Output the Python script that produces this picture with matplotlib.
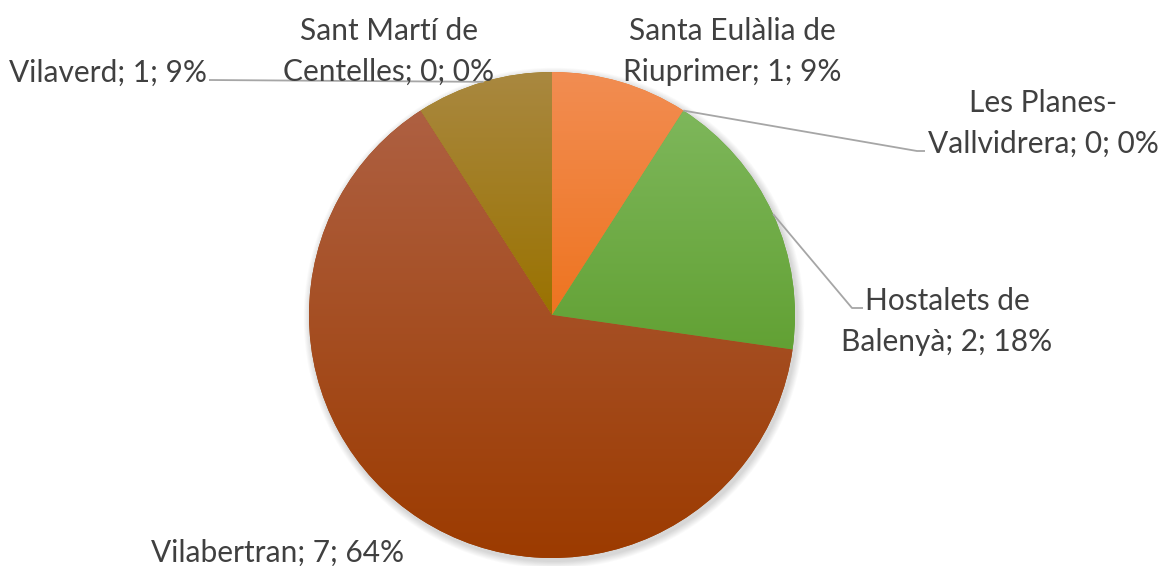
import numpy as np
import matplotlib
matplotlib.use("Agg")
import matplotlib.pyplot as plt
from matplotlib.colors import LinearSegmentedColormap
from matplotlib.patches import Circle

# ---- data ----
names = ["Santa Eulàlia de Riuprimer", "Les Planes-Vallvidrera", "Hostalets de Balenyà",
         "Vilabertran", "Vilaverd", "Sant Martí de Centelles"]
values = [1, 0, 2, 7, 1, 0]

# ---- style / layout ----
top_colors = ["#F28D52", "#F28D52", "#7EB75B", "#AE6042", "#A98840", "#A98840"]
bot_colors = ["#EE7420", "#EE7420", "#62A134", "#9C3B00", "#9A7200", "#9A7200"]
break_after = ["de ", "Planes-", "de ", None, None, "de "]
# first-line baseline positions in pixel coords (x centre, y from top)
label_pos = [(732, 40), (1043, 112), (947, 310), (278, 562), (108, 82), (389, 40)]
# leader line waypoints (pixel coords, y from top); None = no leader
leaders = [None, [(917, 151), (925, 151)], [(852, 308), (863, 308)], None, [(209, 80)], None]

W, H = 1160, 566
CX, CY, R = 552, 315, 243
TEXT = "#404040"
LINE = "#A6A6A6"
FONT = "Lato"
FS = 21.5
LSP = 40.5

fig = plt.figure(figsize=(W / 100, H / 100), dpi=100)
ax = fig.add_axes([0, 0, 1, 1])

def up(y):
    return H - y

# soft shadow
for k in range(8):
    ax.add_patch(Circle((CX + 2, up(CY) - 3), R + 1 + k * 0.9, facecolor="black",
                        edgecolor="none", alpha=0.018, zorder=0))

wedges, _ = ax.pie(values, startangle=90, counterclock=False, center=(CX, up(CY)),
                   radius=R, colors=bot_colors,
                   wedgeprops=dict(linewidth=0, edgecolor="none"))

for w, ct, cb, v in zip(wedges, top_colors, bot_colors, values):
    if v == 0:
        continue
    bb = w.get_path().get_extents()
    cmap = LinearSegmentedColormap.from_list("g", [cb, ct])
    grad = np.linspace(0, 1, 256)[:, None]
    im = ax.imshow(grad, extent=(bb.x0, bb.x1, bb.y0, bb.y1), origin="lower",
                   cmap=cmap, aspect="auto", interpolation="bilinear", zorder=w.get_zorder() + 0.1)
    im.set_clip_path(w)

total = sum(values)
for i, (name, v) in enumerate(zip(names, values)):
    pct = round(v / total * 100)
    full = f"{name}; {v}; {pct}%"
    b = break_after[i]
    if b:
        full = full.replace(b, b.rstrip() + "\n", 1)
    lines = full.split("\n")
    x0, y0 = label_pos[i]
    for j, ln in enumerate(lines):
        ax.text(x0, up(y0 + j * LSP), ln, ha="center", va="baseline",
                fontsize=FS, family=FONT, color=TEXT, zorder=5)
    # leader line
    if leaders[i]:
        w = wedges[i]
        theta = np.deg2rad((w.theta1 + w.theta2) / 2)
        ex = CX + R * np.cos(theta)
        ey = up(CY) + R * np.sin(theta)
        xs = [ex] + [p[0] for p in leaders[i]]
        ys = [ey] + [up(p[1]) for p in leaders[i]]
        ax.plot(xs, ys, color=LINE, lw=1.3, zorder=4, solid_capstyle="butt")

ax.set_xlim(0, W)
ax.set_ylim(0, H)
ax.set_aspect("auto")
ax.axis("off")
fig.savefig("out.png", dpi=100, facecolor="white")
